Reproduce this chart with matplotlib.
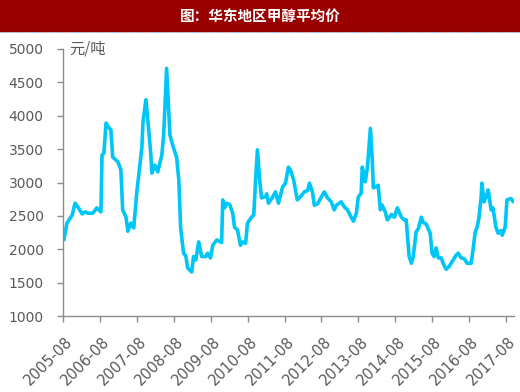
import matplotlib.pyplot as plt
import matplotlib.patches as patches
import matplotlib.transforms as mtransforms

# 华东地区甲醇平均价, time as decimal years, price in 元/吨
years = [2005.61, 2005.69, 2005.83, 2005.91, 2005.99, 2006.10, 2006.18, 2006.26, 2006.39, 2006.50,
         2006.61, 2006.64, 2006.69, 2006.75, 2006.83, 2006.88, 2006.93, 2007.07, 2007.15, 2007.20,
         2007.29, 2007.34, 2007.42, 2007.50, 2007.58, 2007.66, 2007.72, 2007.75, 2007.83, 2007.88,
         2007.96, 2007.99, 2008.07, 2008.15, 2008.26, 2008.31, 2008.39, 2008.48, 2008.56, 2008.66,
         2008.72, 2008.77, 2008.85, 2008.91, 2008.96, 2009.07, 2009.12, 2009.18, 2009.26, 2009.34,
         2009.45, 2009.50, 2009.58, 2009.64, 2009.75, 2009.88, 2009.91, 2009.96, 2010.02, 2010.10,
         2010.18, 2010.23, 2010.31, 2010.39, 2010.45, 2010.53, 2010.58, 2010.69, 2010.75, 2010.80,
         2010.85, 2010.91, 2010.96, 2011.07, 2011.10, 2011.15, 2011.26, 2011.34, 2011.42, 2011.53,
         2011.61, 2011.69, 2011.75, 2011.83, 2011.93, 2012.02, 2012.12, 2012.21, 2012.26, 2012.34,
         2012.39, 2012.48, 2012.58, 2012.66, 2012.75, 2012.85, 2012.93, 2012.99, 2013.12, 2013.21,
         2013.29, 2013.39, 2013.45, 2013.53, 2013.58, 2013.66, 2013.69, 2013.77, 2013.83, 2013.91,
         2013.96, 2013.99, 2014.07, 2014.12, 2014.18, 2014.23, 2014.31, 2014.37, 2014.48, 2014.56,
         2014.64, 2014.75, 2014.83, 2014.88, 2014.96, 2015.02, 2015.07, 2015.15, 2015.21, 2015.29,
         2015.34, 2015.42, 2015.53, 2015.58, 2015.64, 2015.69, 2015.75, 2015.83, 2015.88, 2015.96,
         2016.04, 2016.12, 2016.23, 2016.29, 2016.37, 2016.45, 2016.53, 2016.64, 2016.69, 2016.75,
         2016.80, 2016.85, 2016.91, 2016.93, 2016.99, 2017.04, 2017.10, 2017.18, 2017.23, 2017.31,
         2017.37, 2017.45, 2017.48, 2017.56, 2017.61, 2017.72, 2017.77]
prices = [2150, 2390, 2510, 2690, 2630, 2530, 2560, 2540, 2540, 2620,
          2560, 3410, 3440, 3890, 3820, 3790, 3380, 3310, 3190, 2590,
          2480, 2270, 2390, 2320, 2840, 3230, 3530, 3910, 4240, 3940,
          3440, 3140, 3260, 3160, 3410, 3710, 4710, 3710, 3550, 3380,
          3040, 2320, 1940, 1900, 1720, 1660, 1890, 1840, 2110, 1890,
          1890, 1940, 1870, 2060, 2140, 2100, 2740, 2620, 2690, 2670,
          2540, 2330, 2290, 2060, 2110, 2090, 2390, 2480, 2510, 3040,
          3490, 3040, 2770, 2790, 2830, 2690, 2780, 2860, 2690, 2930,
          2990, 3230, 3180, 3040, 2740, 2790, 2860, 2880, 2990, 2860,
          2660, 2680, 2780, 2860, 2770, 2710, 2590, 2660, 2710, 2630,
          2590, 2480, 2420, 2540, 2780, 2840, 3230, 3010, 3230, 3810,
          3340, 2920, 2940, 2960, 2590, 2660, 2560, 2440, 2520, 2480,
          2620, 2480, 2440, 2440, 1890, 1790, 1890, 2260, 2310, 2480,
          2400, 2380, 2240, 1940, 1890, 2020, 1870, 1870, 1790, 1700,
          1740, 1810, 1910, 1940, 1870, 1860, 1790, 1790, 1990, 2260,
          2330, 2470, 2780, 2990, 2710, 2780, 2890, 2590, 2620, 2330,
          2240, 2280, 2210, 2330, 2740, 2760, 2720]
tick_years = list(range(2005, 2018))
tick_labels = [f'{y}-08' for y in tick_years]

title = '图：华东地区甲醇平均价'
unit = '元/吨'

fig = plt.figure(figsize=(5.2, 3.92), dpi=100)

# red header band
fig.patches.append(patches.Rectangle((0, 1 - 31 / 392), 1, 31 / 392, transform=fig.transFigure,
                                     color='#990000', zorder=0))
fig.add_artist(plt.Line2D([0, 1], [1 - 32 / 392] * 2, transform=fig.transFigure,
                          color='#8fa8d0', lw=0.8, ls=(0, (1, 1))))
fig.text(0.5, 1 - 15.5 / 392, title, color='white', fontsize=10.5, fontweight='bold',
         ha='center', va='center', family=['Noto Sans CJK SC', 'DejaVu Sans'])

ax = fig.add_axes([63 / 520, 1 - 316 / 392, (514 - 63) / 520, (316 - 49) / 392])
ax.plot(years, prices, color='#00C5F7', lw=2.6, solid_joinstyle='round')

ax.set_ylim(1000, 5000)
ax.set_yticks(range(1000, 5001, 500))
ax.set_xlim(2005 + 7 / 12, 2017.80)
ax.set_xticks([y + 7 / 12 for y in tick_years])
ax.set_xticklabels(tick_labels, rotation=45, ha='right', va='top', rotation_mode='anchor')

for s in ['top', 'right']:
    ax.spines[s].set_visible(False)
for s in ['left', 'bottom']:
    ax.spines[s].set_color('#8c8c8c')
    ax.spines[s].set_linewidth(1.0)
ax.tick_params(axis='both', colors='#8c8c8c', length=4, width=1.0, labelcolor='#595959')
ax.tick_params(axis='y', pad=10, labelsize=10)
ax.tick_params(axis='x', pad=9, labelsize=10.5)

# nudge the rotated date labels a little to the right, like the original
shift = mtransforms.ScaledTranslation(2 / 100, 0, fig.dpi_scale_trans)
for lab in ax.get_xticklabels():
    lab.set_transform(lab.get_transform() + shift)

ax.text(0.015, 1.0, unit, transform=ax.transAxes, color='#595959', fontsize=11,
        ha='left', va='center', family=['Noto Sans CJK SC', 'DejaVu Sans'])

fig.savefig('out.png', dpi=100)
